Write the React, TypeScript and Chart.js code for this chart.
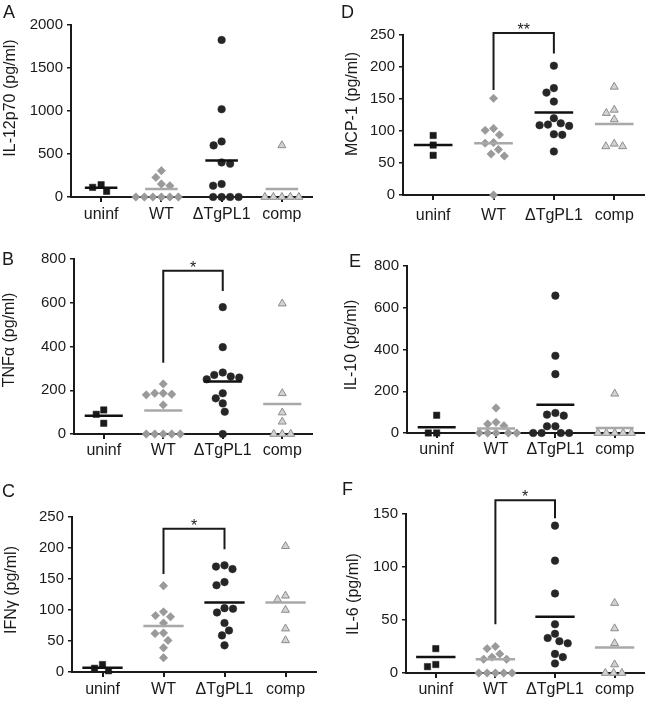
import React, { useEffect, useRef } from "react";
import { Chart, registerables } from "chart.js";
Chart.register(...registerables);

// ---------- data ----------
const categories = ["uninf", "WT", "ΔTgPL1", "comp"];

// A: IL-12p70
const il12Uninf = [143, 66, 112];
const il12WT = [306, 228, 151, 130, 0, 0, 0, 0, 0, 0];
const il12Delta = [1826, 1021, 646, 600, 402, 387, 151, 131, 0, 0, 0, 0];
const il12Comp = [600, 0, 0, 0, 0, 0];
const il12Means = [107, 93, 425, 93];
const il12Ticks = [0, 500, 1000, 1500, 2000];

// B: TNFα
const tnfUninf = [110, 90, 49];
const tnfWT = [229, 186, 186, 182, 179, 133, 0, 0, 0, 0, 0];
const tnfDelta = [580, 397, 281, 270, 263, 258, 250, 186, 163, 140, 102, 0];
const tnfComp = [596, 186, 98, 56, 0, 0, 0];
const tnfMeans = [84, 107, 240, 137];
const tnfTicks = [0, 200, 400, 600, 800];
const tnfBracket = [326, 746, 654];
const tnfSig = "*";

// C: IFNγ
const ifnUninf = [12, 2, 6];
const ifnWT = [139, 97, 91, 89, 79, 63, 62, 51, 39, 23];
const ifnDelta = [172, 170, 166, 145, 140, 103, 102, 96, 79, 67, 59, 43];
const ifnComp = [203, 123, 117, 100, 70, 51];
const ifnMeans = [7, 74, 112, 112];
const ifnTicks = [0, 50, 100, 150, 200, 250];
const ifnBracket = [158, 231, 198];
const ifnSig = "*";

// D: MCP-1
const mcpUninf = [93, 78, 62];
const mcpWT = [151, 104, 101, 94, 82, 81, 71, 64, 61, 0];
const mcpDelta = [202, 167, 160, 146, 120, 112, 110, 109, 108, 95, 94, 68];
const mcpComp = [169, 133, 128, 118, 80, 76, 76];
const mcpMeans = [78, 81, 129, 111];
const mcpTicks = [0, 50, 100, 150, 200, 250];
const mcpBracket = [164, 253, 221];
const mcpSig = "**";

// E: IL-10
const il10Uninf = [85, 0, 0];
const il10WT = [120, 51, 43, 35, 0, 0, 0, 0, 0];
const il10Delta = [658, 370, 282, 96, 88, 83, 32, 32, 0, 0, 0, 0];
const il10Comp = [188, 0, 0, 0, 0, 0];
const il10Means = [27, 21, 135, 24];
const il10Ticks = [0, 200, 400, 600, 800];

// F: IL-6
const il6Uninf = [23, 8, 6];
const il6WT = [25, 23, 18, 15, 13, 13, 0, 0, 0, 0, 0];
const il6Delta = [139, 106, 75, 46, 37, 33, 30, 28, 18, 15, 9];
const il6Comp = [66, 42, 28, 8, 0, 0, 0];
const il6Means = [15, 13, 53, 24];
const il6Ticks = [0, 50, 100, 150];
const il6Bracket = [46, 163, 146];
const il6Sig = "*";

// ---------- layout / style ----------
const FONT = '"Liberation Sans", Arial, Helvetica, sans-serif';
const INK = "#1a1a1a";

const groupStyles = [
  { pointStyle: "rect", radius: 4.5, bg: "#1a1a1a", border: "#1a1a1a", bw: 0.5, mean: "#111111" },
  { pointStyle: "rectRot", radius: 4.2, bg: "#9a9a9a", border: "#8a8a8a", bw: 0.5, mean: "#a8a8a8" },
  { pointStyle: "circle", radius: 3.8, bg: "#262626", border: "#262626", bw: 0.5, mean: "#111111" },
  { pointStyle: "triangle", radius: 4.6, bg: "#d2d2d2", border: "#8c8c8c", bw: 1, mean: "#a8a8a8" },
];

type PanelDef = {
  letter: string;
  title: string;
  box: number[]; // canvas x, y, w, h
  area: number[]; // chart area left, top, right, bottom (page coords)
  letterPos: number[];
  titlePos: number[];
  yTicks: number[];
  groups: number[][];
  means: number[];
  bracket: number[] | null;
  sig: string | null;
  meanHalf: number;
  xPad: number;
};

const panels: PanelDef[] = [
  { letter: "A", title: "IL-12p70 (pg/ml)", box: [0, 0, 330, 230], area: [71, 25, 312, 197], letterPos: [3, 18], titlePos: [11, 98], yTicks: il12Ticks, groups: [il12Uninf, il12WT, il12Delta, il12Comp], means: il12Means, bracket: null, sig: null, meanHalf: 0.27, xPad: 3 },
  { letter: "D", title: "MCP-1 (pg/ml)", box: [330, 0, 320, 230], area: [403, 35, 648, 195], letterPos: [341, 18], titlePos: [353, 104], yTicks: mcpTicks, groups: [mcpUninf, mcpWT, mcpDelta, mcpComp], means: mcpMeans, bracket: mcpBracket, sig: mcpSig, meanHalf: 0.32, xPad: 6 },
  { letter: "B", title: "TNFα (pg/ml)", box: [0, 230, 330, 230], area: [74, 259, 312, 434], letterPos: [2, 265], titlePos: [10, 340], yTicks: tnfTicks, groups: [tnfUninf, tnfWT, tnfDelta, tnfComp], means: tnfMeans, bracket: tnfBracket, sig: tnfSig, meanHalf: 0.32, xPad: 2 },
  { letter: "E", title: "IL-10 (pg/ml)", box: [330, 230, 320, 230], area: [407, 266, 648, 433], letterPos: [349, 267], titlePos: [352, 345], yTicks: il10Ticks, groups: [il10Uninf, il10WT, il10Delta, il10Comp], means: il10Means, bracket: null, sig: null, meanHalf: 0.32, xPad: 2 },
  { letter: "C", title: "IFNγ (pg/ml)", box: [0, 460, 330, 244], area: [72, 517, 316, 672], letterPos: [2, 497], titlePos: [12, 590], yTicks: ifnTicks, groups: [ifnUninf, ifnWT, ifnDelta, ifnComp], means: ifnMeans, bracket: ifnBracket, sig: ifnSig, meanHalf: 0.33, xPad: 3 },
  { letter: "F", title: "IL-6 (pg/ml)", box: [330, 460, 320, 244], area: [406, 514, 650, 673], letterPos: [342, 495], titlePos: [354, 594], yTicks: il6Ticks, groups: [il6Uninf, il6WT, il6Delta, il6Comp], means: il6Means, bracket: il6Bracket, sig: il6Sig, meanHalf: 0.33, xPad: 2 },
];

const COLLIDE_PX = 8.5;

// greedy beeswarm: each point takes the closest horizontal slot free of overlap
function swarmOffsets(values: number[], pxPerVal: number, pxPerCat: number): number[] {
  const idx = values.map((_, i) => i).sort((a, b) => values[b] - values[a]);
  const offsets = new Array(values.length).fill(0);
  const placed: { x: number; y: number }[] = [];
  let flip = 1;
  for (const k of idx) {
    const y = values[k] * pxPerVal;
    let chosen = 0;
    for (let d = 0; d < 80; d += 0.5) {
      const cands = d === 0 ? [0] : [-d * flip, d * flip];
      let found = false;
      for (const x of cands) {
        const ok = placed.every((p) => Math.hypot(p.x - x, p.y - y) >= COLLIDE_PX);
        if (ok) {
          chosen = x;
          found = true;
          break;
        }
      }
      if (found) break;
    }
    if (chosen !== 0) flip = -flip;
    placed.push({ x: chosen, y });
    offsets[k] = chosen / pxPerCat;
  }
  return offsets;
}

const decoPlugin = {
  id: "deco",
  afterDatasetsDraw(chart: any, _args: any, o: any) {
    const ctx = chart.ctx as CanvasRenderingContext2D;
    ctx.save();
    ctx.fillStyle = INK;
    ctx.font = `18px ${FONT}`;
    ctx.textAlign = "left";
    ctx.textBaseline = "alphabetic";
    ctx.fillText(o.letter, o.letterX, o.letterY);
    ctx.save();
    ctx.translate(o.titleX, o.titleY);
    ctx.rotate(-Math.PI / 2);
    ctx.font = `16px ${FONT}`;
    ctx.textAlign = "center";
    ctx.textBaseline = "middle";
    ctx.fillText(o.title, 0, 0);
    ctx.restore();
    if (o.sig && o.bracketTop != null) {
      const xs = chart.scales.x;
      const ys = chart.scales.y;
      ctx.font = `16px ${FONT}`;
      ctx.textAlign = "center";
      ctx.textBaseline = "alphabetic";
      ctx.fillText(o.sig, xs.getPixelForValue(1.5), ys.getPixelForValue(o.bracketTop) + 2);
    }
    ctx.restore();
  },
};

function buildConfig(p: PanelDef): any {
  const [bx, by, bw, bh] = p.box;
  const [al, at, ar, ab] = p.area;
  const yMax = p.yTicks[p.yTicks.length - 1];
  const pxPerVal = (ab - at) / yMax;
  const pxPerCat = (ar - al) / 4;

  const datasets: any[] = [];

  if (p.bracket) {
    const [s, t, e] = p.bracket;
    datasets.push({
      type: "line",
      data: [
        { x: 1, y: s },
        { x: 1, y: t },
        { x: 2, y: t },
        { x: 2, y: e },
      ],
      showLine: true,
      borderColor: INK,
      borderWidth: 2,
      pointRadius: 0,
      tension: 0,
      fill: false,
      clip: false,
    });
  }

  p.means.forEach((m, c) => {
    datasets.push({
      type: "line",
      data: [
        { x: c - p.meanHalf, y: m },
        { x: c + p.meanHalf, y: m },
      ],
      showLine: true,
      borderColor: groupStyles[c].mean,
      borderWidth: 2.5,
      pointRadius: 0,
      fill: false,
      clip: false,
    });
  });

  p.groups.forEach((vals, c) => {
    const st = groupStyles[c];
    const off = swarmOffsets(vals, pxPerVal, pxPerCat);
    datasets.push({
      type: "scatter",
      data: vals.map((v, i) => ({ x: c + off[i], y: v })),
      pointStyle: st.pointStyle,
      pointRadius: st.radius,
      backgroundColor: st.bg,
      borderColor: st.border,
      borderWidth: st.bw,
      showLine: false,
      clip: false,
    });
  });

  return {
    type: "scatter",
    data: { datasets },
    plugins: [decoPlugin],
    options: {
      animation: false,
      responsive: false,
      maintainAspectRatio: false,
      events: [],
      layout: { padding: { top: at - by, right: bx + bw - ar, left: 0, bottom: 0 } },
      plugins: {
        legend: { display: false },
        tooltip: { enabled: false },
        deco: {
          letter: p.letter,
          letterX: p.letterPos[0] - bx,
          letterY: p.letterPos[1] - by,
          title: p.title,
          titleX: p.titlePos[0] - bx,
          titleY: p.titlePos[1] - by,
          sig: p.sig,
          bracketTop: p.bracket ? p.bracket[1] : null,
        },
      },
      scales: {
        x: {
          type: "linear",
          min: -0.5,
          max: 3.5,
          afterBuildTicks: (s: any) => {
            s.ticks = categories.map((_, i) => ({ value: i }));
          },
          afterFit: (s: any) => {
            s.height = by + bh - ab;
          },
          ticks: {
            callback: (v: any) => categories[Math.round(v)] ?? "",
            font: { family: FONT, size: 16 },
            color: INK,
            padding: p.xPad,
            autoSkip: false,
            maxRotation: 0,
          },
          grid: { drawOnChartArea: false, drawTicks: true, tickLength: 5, color: INK, lineWidth: 2 },
          border: { display: true, color: INK, width: 2 },
        },
        y: {
          type: "linear",
          min: 0,
          max: yMax,
          afterBuildTicks: (s: any) => {
            s.ticks = p.yTicks.map((v) => ({ value: v }));
          },
          afterFit: (s: any) => {
            s.width = al - bx;
          },
          ticks: {
            font: { family: FONT, size: 15 },
            color: INK,
            padding: 4,
            callback: (v: any) => String(v),
          },
          grid: { drawOnChartArea: false, drawTicks: true, tickLength: 4, color: INK, lineWidth: 1.5 },
          border: { display: true, color: INK, width: 2 },
        },
      },
    },
  };
}

function Panel({ p }: { p: PanelDef }) {
  const ref = useRef<HTMLCanvasElement | null>(null);
  useEffect(() => {
    if (!ref.current) return;
    const chart = new Chart(ref.current, buildConfig(p));
    return () => chart.destroy();
  }, [p]);
  const [bx, by, bw, bh] = p.box;
  return (
    <canvas
      ref={ref}
      width={bw}
      height={bh}
      style={{ position: "absolute", left: bx, top: by, width: bw, height: bh }}
    />
  );
}

export default function App() {
  return (
    <div
      style={{
        position: "fixed",
        left: 0,
        top: 0,
        width: 650,
        height: 704,
        background: "#ffffff",
        overflow: "hidden",
      }}
    >
      {panels.map((p) => (
        <Panel key={p.letter} p={p} />
      ))}
    </div>
  );
}
